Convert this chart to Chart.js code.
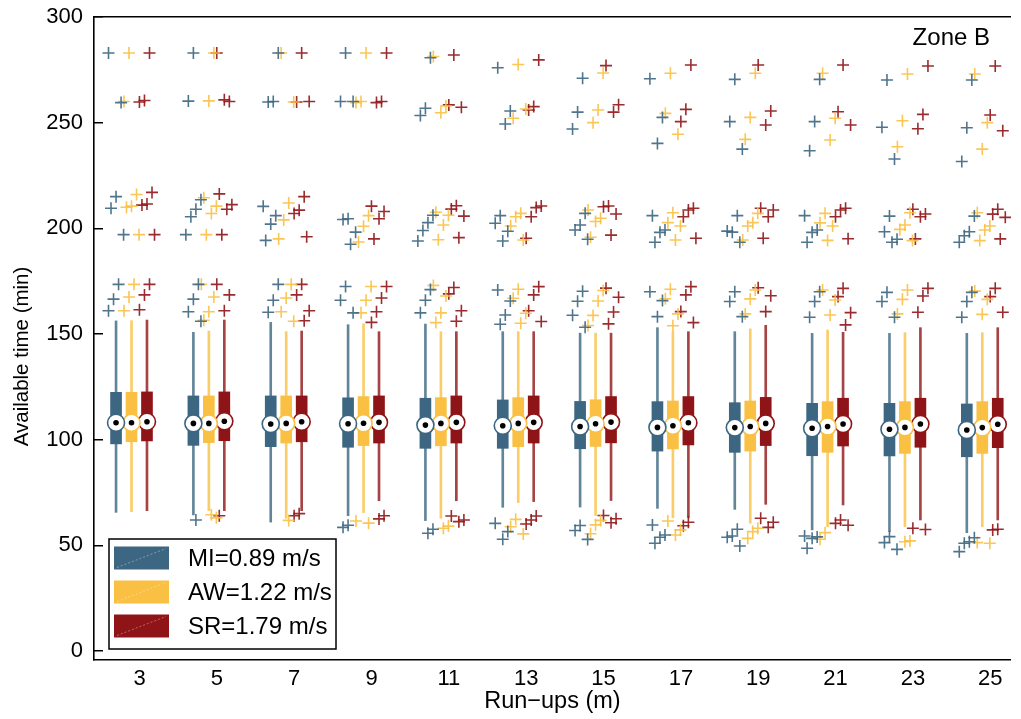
<!DOCTYPE html>
<html>
<head>
<meta charset="utf-8">
<script src="https://cdn.jsdelivr.net/npm/chart.js@4.4.1/dist/chart.umd.min.js"></script>
<style>
  html, body { margin: 0; padding: 0; background: #fff; overflow: hidden; }
  #wrap { position: relative; width: 1021px; height: 719px; }
</style>
</head>
<body>
<div id="wrap"><canvas id="c" width="1021" height="719"></canvas></div>
<script>
// Run-up lengths (m) on the x axis and the value ticks on the y axis
const runUps = [3, 5, 7, 9, 11, 13, 15, 17, 19, 21, 23, 25];
const yTickValues = [0, 50, 100, 150, 200, 250, 300];
const seriesLabels = ['MI=0.89 m/s', 'AW=1.22 m/s', 'SR=1.79 m/s'];

// MI: lower whisker, quartiles, median, upper whisker (min)
const miLow  = [65.6, 64.4, 61.0, 64.0, 61.7, 68.0, 68.1, 67.5, 67.0, 57.3, 56.5, 56.0];
const miQ1   = [98.0, 97.3, 96.7, 96.4, 95.9, 95.9, 95.7, 94.6, 94.0, 92.4, 92.3, 91.9];
const miMed  = [108.0, 107.7, 107.4, 107.5, 106.9, 106.6, 106.2, 105.8, 105.7, 105.4, 104.9, 104.6];
const miQ3   = [122.4, 120.7, 120.7, 119.8, 119.6, 118.8, 118.1, 118.0, 117.5, 117.2, 117.2, 116.9];
const miHigh = [156.2, 150.8, 155.5, 154.4, 154.7, 151.1, 150.4, 153.0, 151.1, 150.3, 150.3, 150.3];

// AW
const awLow  = [65.9, 66.4, 62.8, 65.5, 62.8, 70.2, 64.1, 63.0, 60.5, 58.8, 58.8, 58.8];
const awQ1   = [99.0, 98.6, 98.4, 97.2, 97.1, 96.7, 96.8, 95.6, 94.6, 94.0, 93.5, 93.5];
const awMed  = [108.0, 107.7, 107.7, 107.8, 107.7, 107.7, 107.5, 106.6, 106.2, 106.2, 105.8, 105.7];
const awQ3   = [122.4, 120.7, 120.7, 120.4, 119.9, 119.9, 118.9, 118.3, 118.3, 118.0, 118.0, 118.0];
const awHigh = [156.3, 151.4, 151.1, 154.8, 151.1, 151.1, 150.4, 151.1, 152.4, 151.9, 150.6, 150.6];

// SR
const srLow  = [66.4, 66.4, 66.4, 71.1, 71.1, 70.7, 71.2, 63.2, 69.4, 69.1, 62.0, 62.0];
const srQ1   = [99.4, 99.5, 99.0, 98.4, 98.4, 98.4, 98.5, 97.5, 97.2, 97.0, 96.4, 96.2];
const srMed  = [108.5, 108.7, 108.5, 108.2, 108.2, 108.2, 108.3, 108.0, 107.7, 107.4, 107.4, 107.3];
const srQ3   = [122.6, 122.6, 120.7, 120.7, 120.7, 120.7, 120.4, 120.4, 120.0, 119.6, 119.6, 119.6];
const srHigh = [156.6, 156.6, 151.4, 151.1, 151.1, 151.1, 150.4, 151.1, 154.1, 150.8, 153.0, 153.0];

// Outliers per run-up
const miOutliers = [
  [283, 259.5, 215, 209.5, 197, 173.5, 166.5, 161],
  [283, 260.2, 213.5, 209, 205.5, 197, 173.5, 166.5, 160.5, 156, 62],
  [283, 260, 259.8, 210.4, 206, 202, 194.3, 173.5, 166, 160.3],
  [283, 260, 260, 204.5, 204.2, 198.2, 192.5, 172.5, 166, 160, 59.5, 58.5],
  [280.7, 256.8, 253.4, 206.2, 202.7, 199, 194, 171, 166, 160, 57.6, 55.7],
  [276, 255.5, 249.4, 206, 202.4, 198.6, 194, 170.8, 165.6, 159, 154.6, 60.4, 56.5, 52.9],
  [271, 255, 247, 207.1, 201.6, 199.2, 194.8, 170.2, 165.5, 158.9, 153.2, 59.4, 57, 52.8],
  [270.8, 252.5, 240.2, 206, 199.2, 198.1, 193.4, 170, 165.8, 158.2, 59.6, 54.9, 53.8, 51],
  [270.5, 250.5, 237.5, 206, 198.2, 198.7, 193.4, 170, 165.4, 158.2, 57.6, 54.4, 53.8, 49.7],
  [270.5, 250.5, 236.7, 206, 199.2, 198.1, 193.4, 170, 165.4, 157.9, 54.4, 54, 53.3, 48.6],
  [270.2, 247.8, 232.8, 205.8, 198.4, 194.8, 193.4, 169.7, 165.4, 157.9, 54.1, 51.3, 48.1],
  [270.2, 247.6, 231.6, 205.8, 198.4, 196.5, 193.4, 169.7, 165.4, 157.9, 53.6, 51.7, 51, 47]
];
const awOutliers = [
  [283, 260, 216, 210.5, 210, 197, 173.5, 167.5, 161],
  [283, 260.3, 214.5, 210.5, 207, 197, 173.5, 167.5, 160.5, 156.5, 63, 64.5],
  [283, 259.8, 212, 204, 195, 173.5, 167, 160.5, 156, 61.8],
  [283, 260, 259.5, 206, 201, 193.5, 172.5, 166, 160, 61.5, 60.5],
  [281.3, 257.9, 254.7, 207.6, 206.2, 201.6, 194.6, 173, 168, 160, 155.4, 59.1, 58.1],
  [277.5, 252.1, 256.5, 207.1, 205.5, 201.1, 194.5, 171.2, 166.9, 159.8, 155.1, 62.3, 58.8, 55.4],
  [273.5, 256, 250, 208.7, 204.8, 203.2, 195.8, 170.6, 165.6, 158.8, 154, 61.8, 59.7, 55.5],
  [273.4, 254.4, 244.5, 207.4, 202.7, 201.1, 194.5, 171.2, 166.7, 159.5, 153.9, 61.5, 57.3, 54.9],
  [273.4, 252.5, 242.1, 207.1, 202.7, 201.1, 194.5, 170.8, 166.6, 159.5, 58.1, 56.5, 53.3],
  [273.4, 252.1, 241.8, 207.1, 202.6, 201.1, 194.3, 170.8, 166.1, 159, 56, 52.9],
  [273, 250.9, 238.6, 207.4, 201.6, 199.5, 194.2, 170.8, 166.4, 159.5, 52.1, 51.7],
  [273, 250, 237.5, 207.4, 201.1, 199.2, 194.2, 170.3, 166.4, 159.3, 51.3, 51]
];
const srOutliers = [
  [283, 260.5, 259.8, 217, 211.5, 211, 197, 173.5, 168.5, 161.5],
  [283, 260, 260.8, 216.3, 211.2, 209, 197, 173.5, 168.5, 161, 64],
  [283, 259.8, 260, 215, 208.6, 207, 196, 173.5, 168.5, 161, 156.3, 65, 64],
  [283, 260, 259.5, 210.5, 208, 204.5, 195, 172.5, 167, 160.5, 155.5, 64, 62.5],
  [282, 258.4, 257.3, 210.7, 209.1, 205.8, 195.6, 172, 169, 161, 156, 63.9, 62, 61.2],
  [279.7, 257.6, 256, 210.6, 209.8, 205.5, 195.3, 172.4, 168.5, 161, 155.9, 63.9, 62, 60.1],
  [277, 258.5, 255, 210.6, 210.2, 206.8, 196.8, 171.7, 167.4, 160.4, 154.8, 64.1, 62.6, 60.7],
  [277.3, 256.3, 250.5, 209.5, 208.7, 205.5, 195.3, 172.4, 168.5, 160.6, 155.4, 60.9, 59.3],
  [277.3, 255.5, 248.9, 209.5, 208.7, 205.5, 195.3, 171.9, 168.1, 160.6, 62.8, 60.9, 58.5],
  [277.3, 255.2, 248.9, 209.5, 208.7, 205.5, 195.1, 171.6, 167.7, 160.1, 154.3, 62, 60.4, 59.5],
  [276.8, 253.9, 247.1, 209, 206.8, 205.5, 195, 171.6, 168, 160.3, 58.1, 57.5],
  [276.8, 253.6, 246.2, 209, 206.7, 205.2, 195, 171.6, 167.7, 160.3, 57.6, 57.3]
];

const series = [
  { label: seriesLabels[0], color: '#3c6681', low: miLow, q1: miQ1, med: miMed, q3: miQ3, high: miHigh, out: miOutliers },
  { label: seriesLabels[1], color: '#f9c043', low: awLow, q1: awQ1, med: awMed, q3: awQ3, high: awHigh, out: awOutliers },
  { label: seriesLabels[2], color: '#8f1417', low: srLow, q1: srQ1, med: srMed, q3: srQ3, high: srHigh, out: srOutliers }
];

// side-by-side placement of the three boxes within a run-up group (axis units)
const groupShift = [-0.4, 0, 0.4];
// small fixed horizontal spread so overlapping outliers stay visible
function spread(k, g, s) { return (((k * 5 + g * 3 + s * 2) % 7) - 3) * 0.065; }

function rgba(hex, a) {
  const n = parseInt(hex.slice(1), 16);
  return `rgba(${(n >> 16) & 255},${(n >> 8) & 255},${n & 255},${a})`;
}

const FONT = '"Liberation Sans", Arial, Helvetica, sans-serif';
const datasets = [];
series.forEach((s, si) => {
  const dx = groupShift[si];
  datasets.push({
    type: 'bar', label: s.label + ' whisker', grouped: false, order: 40,
    data: runUps.map((r, i) => ({ x: r + dx, y: [s.low[i], s.high[i]] })),
    backgroundColor: rgba(s.color, 0.8), borderWidth: 0, barThickness: 2
  });
  datasets.push({
    type: 'bar', label: s.label, grouped: false, order: 30,
    data: runUps.map((r, i) => ({ x: r + dx, y: [s.q1[i], s.q3[i]] })),
    backgroundColor: s.color, borderWidth: 0, barThickness: 11
  });
  const outs = [];
  runUps.forEach((r, g) => s.out[g].forEach((v, k) => outs.push({ x: r + dx + spread(k, g, si), y: v })));
  datasets.push({
    type: 'scatter', label: s.label + ' outliers', order: 35, data: outs,
    pointStyle: 'cross', pointRadius: 6, borderColor: rgba(s.color, 0.9), borderWidth: 1.6
  });
  datasets.push({
    type: 'scatter', label: s.label + ' median', order: 10,
    data: runUps.map((r, i) => ({ x: r + dx, y: s.med[i] })),
    pointStyle: 'circle', pointRadius: 8.5, backgroundColor: '#fff', borderColor: s.color, borderWidth: 1.6
  });
  datasets.push({
    type: 'scatter', label: s.label + ' median dot', order: 5,
    data: runUps.map((r, i) => ({ x: r + dx, y: s.med[i] })),
    pointStyle: 'circle', pointRadius: 2.8, backgroundColor: '#000', borderWidth: 0
  });
});

// legend box, zone tag and the vertical axis caption
const boxLegend = {
  id: 'boxLegend',
  afterDatasetsDraw(chart) {
    const { ctx, chartArea: a } = chart;
    const bw = 227, bh = 110;
    const bx = a.left + 15, by = a.bottom - 11 - bh;
    ctx.save();
    ctx.fillStyle = '#fff';
    ctx.fillRect(bx, by, bw, bh);
    ctx.strokeStyle = '#000';
    ctx.lineWidth = 1.5;
    ctx.strokeRect(bx, by, bw, bh);
    series.forEach((s, i) => {
      const cy = by + 19 + i * 34;
      const px = bx + 5, pw = 55, ph = 23;
      ctx.fillStyle = s.color;
      ctx.fillRect(px, cy - ph / 2, pw, ph);
      ctx.strokeStyle = 'rgba(255,255,255,0.45)';
      ctx.lineWidth = 0.8;
      ctx.setLineDash([2, 2]);
      ctx.beginPath();
      ctx.moveTo(px + 3, cy + ph / 2 - 2);
      ctx.lineTo(px + pw - 3, cy - ph / 2 + 2);
      ctx.stroke();
      ctx.setLineDash([]);
      ctx.fillStyle = '#000';
      ctx.font = '24px ' + FONT;
      ctx.textAlign = 'left';
      ctx.textBaseline = 'middle';
      ctx.fillText(s.label, bx + 79, cy + 1);
    });
    ctx.font = '24px ' + FONT;
    ctx.textAlign = 'right';
    ctx.textBaseline = 'middle';
    ctx.fillStyle = '#000';
    ctx.fillText('Zone B', chart.width - 31, a.top + 21);

    // y axis caption, set slightly below the axis midpoint
    ctx.translate(22, (a.top + a.bottom) / 2 + 18);
    ctx.rotate(-Math.PI / 2);
    ctx.font = '20.5px ' + FONT;
    ctx.textAlign = 'center';
    ctx.textBaseline = 'middle';
    ctx.fillText('Available time (min)', 0, 0);
    ctx.restore();
  }
};

new Chart(document.getElementById('c'), {
  type: 'bar',
  data: { datasets },
  options: {
    responsive: false,
    animation: false,
    events: [],
    layout: { padding: { top: 17, left: 0, right: 0, bottom: 0 } },
    plugins: { legend: { display: false }, tooltip: { enabled: false } },
    scales: {
      x: {
        type: 'linear', position: 'bottom', min: 2.03, max: 25.74, offset: false,
        afterBuildTicks: (s) => { s.ticks = runUps.map(v => ({ value: v })); },
        afterFit: (s) => { s.height = 59; s.paddingLeft = 0; s.paddingRight = 0; },
        grid: { display: false, drawTicks: false, offset: false },
        border: { display: true, color: '#000', width: 1.6 },
        ticks: { color: '#000', font: { family: FONT, size: 22 }, padding: 6, labelOffset: 8, maxRotation: 0, autoSkip: false },
        title: { display: true, text: 'Run\u2212ups (m)', color: '#000', font: { family: FONT, size: 23.5 }, padding: { top: 0, bottom: 3 } }
      },
      xTop: {
        type: 'linear', position: 'top', min: 2.03, max: 25.74, offset: false,
        afterFit: (s) => { s.height = 0; s.paddingLeft = 0; s.paddingRight = 0; },
        grid: { display: false, drawTicks: false, offset: false },
        border: { display: true, color: '#000', width: 1.6 },
        ticks: { display: false }
      },
      y: {
        type: 'linear', position: 'left', min: -4.26, max: 300,
        afterBuildTicks: (s) => { s.ticks = yTickValues.map(v => ({ value: v })); },
        afterFit: (s) => { s.width = 94; s.paddingTop = 0; s.paddingBottom = 0; },
        grid: { display: true, drawOnChartArea: false, drawTicks: true, tickLength: -9, color: '#000', lineWidth: 1.5 },
        border: { display: true, color: '#000', width: 1.6 },
        ticks: { color: '#000', font: { family: FONT, size: 22 }, padding: 20 },
        title: { display: false }
      }
    }
  },
  plugins: [boxLegend]
});
</script>
</body>
</html>
